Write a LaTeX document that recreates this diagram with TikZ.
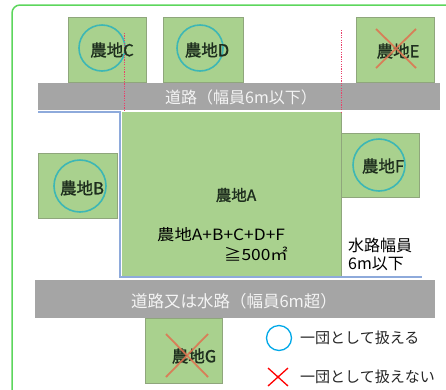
\documentclass[tikz,border=0pt]{standalone}
\usepackage{fontspec}
\setmainfont{Noto Sans CJK JP}
\newfontfamily\fieldfont[FakeBold=1.2]{Noto Sans CJK JP}
\newfontfamily\widefont[FakeStretch=1.12]{Noto Sans CJK JP}
\begin{document}
\begin{tikzpicture}[x=1pt,y=-1pt,
  field/.style={fill=fieldgreen,draw=fieldedge,line width=0.8pt},
  fieldtxt/.style={text=fieldtext,font=\fieldfont\fontsize{16.5}{18}\selectfont,inner sep=0pt},
  ring/.style={draw=ringteal,line width=1.6pt},
  road/.style={fill=roadgray,draw=none},
  roadtxt/.style={text=roadtext,font=\fontsize{16}{18}\selectfont,inner sep=0pt},
  plaintxt/.style={text=black!85,font=\fontsize{15}{17}\selectfont,inner sep=0pt},
  cross/.style={draw=crossorange,line width=1.8pt,opacity=0.85},
  redline/.style={draw=dotred,line width=1pt,dash pattern=on 1.2pt off 1.2pt},
  bound/.style={draw=boundblue,line width=1.2pt}]
\definecolor{fieldgreen}{HTML}{A9D18E}
\definecolor{fieldedge}{HTML}{8FA67C}
\definecolor{fieldtext}{HTML}{1E2E1E}
\definecolor{ringteal}{HTML}{3DB7B5}
\definecolor{roadgray}{HTML}{A5A5A5}
\definecolor{roadtext}{HTML}{F4F4F4}
\definecolor{crossorange}{HTML}{E0714F}
\definecolor{boundblue}{HTML}{8EAADB}
\definecolor{framegreen}{HTML}{5CD65C}
\definecolor{legblue}{HTML}{00A8E8}
\definecolor{dotred}{HTML}{E8406A}
\useasboundingbox (0,0) rectangle (446,389);
\begin{scope}
\clip (0,0) rectangle (446,389);
\draw[framegreen,line width=1.5pt,rounded corners=8pt] (12,5) rectangle (470,410);
\end{scope}
% roads
\node[road,minimum width=402,minimum height=27,inner sep=0pt,anchor=north west] (roadtop) at (38,83) {};
\node[roadtxt] (roadtoptxt) at (241,97) {道路（幅員6m以下）};
\node[road,minimum width=400,minimum height=38,inner sep=0pt,anchor=north west] (roadbot) at (35,280) {};
\node[roadtxt,font=\fontsize{16.5}{18}\selectfont] (roadbottxt) at (234,301) {道路又は水路（幅員6m超）};
% field A
\node[fill=fieldgreen,draw=none,minimum width=219,minimum height=165,inner sep=0pt,anchor=north west] (fa) at (122,112) {};
\draw[fieldedge,line width=0.8pt] (fa.north east) -- (fa.south east);
\coordinate (b1) at (38,112);
\coordinate (b2) at (120,112);
\coordinate (b3) at (120,277);
\coordinate (b4) at (422,277);
\draw[bound] (b1) -- (b2) -- (b3) -- (b4);
\node[text=fieldtext,font=\fieldfont\fontsize{15.5}{17}\selectfont,inner sep=0pt] (fatxt) at (236,195) {農地A};
\node[plaintxt,text=black,anchor=west,font=\widefont\fontsize{15.5}{17}\selectfont] (sum) at (157,235) {農地A+B+C+D+F};
\node[plaintxt,text=black,anchor=east,font=\widefont\fontsize{15.5}{17}\selectfont] (ge) at (288,254) {≧500㎡};
% fields
\node[field,minimum width=78,minimum height=65,inner sep=0pt,anchor=north west] (fc) at (68,17) {};
\node[field,minimum width=80,minimum height=65,inner sep=0pt,anchor=north west] (fd) at (163,17) {};
\node[field,minimum width=78,minimum height=65,inner sep=0pt,anchor=north west] (fe) at (356,17) {};
\node[field,minimum width=79,minimum height=65,inner sep=0pt,anchor=north west] (fb) at (38,153) {};
\node[field,minimum width=78,minimum height=64,inner sep=0pt,anchor=north west] (ff) at (341,133) {};
\node[field,minimum width=77,minimum height=65,inner sep=0pt,anchor=north west] (fg) at (145,318) {};
% rings
\draw[ring] (102,48) circle[radius=23];
\draw[ring] (200,48) circle[radius=23];
\draw[ring] (80,186) circle[radius=26];
\draw[ring] (379,165) circle[radius=26];
% dotted lines
\coordinate (d1a) at (124,33);
\coordinate (d1b) at (124,112);
\coordinate (d2a) at (341,30);
\coordinate (d2b) at (341,112);
\draw[redline] (d1a) -- (d1b);
\draw[redline] (d2a) -- (d2b);
% field texts
\node[fieldtxt] (tc) at (112,50) {農地C};
\node[fieldtxt] (td) at (207,50) {農地D};
\node[fieldtxt] (te) at (398,51) {農地E};
\node[fieldtxt] (tb) at (82,188) {農地B};
\node[fieldtxt] (tf) at (383,166) {農地F};
\node[fieldtxt] (tg) at (194,356) {農地G};
% crosses
\draw[cross] (376,29) -- (416,68) (416,29) -- (376,68);
\draw[cross] (166,334) -- (208,377) (208,334) -- (166,377);
% water path text
\node[plaintxt,text=black,anchor=west,font=\fontsize{16}{18}\selectfont] (w1) at (348,245) {水路幅員};
\node[plaintxt,text=black,anchor=west,font=\fontsize{16}{18}\selectfont] (w2) at (348,264) {6m以下};
% legend
\draw[legblue,line width=1.3pt] (279,338) circle[radius=12.5];
\node[plaintxt,anchor=west] (l1) at (300,338) {一団として扱える};
\draw[red,line width=1.3pt] (268,368) -- (288,386) (288,368) -- (268,386);
\node[plaintxt,anchor=west] (l2) at (300,377) {一団として扱えない};
\end{tikzpicture}
\end{document}
